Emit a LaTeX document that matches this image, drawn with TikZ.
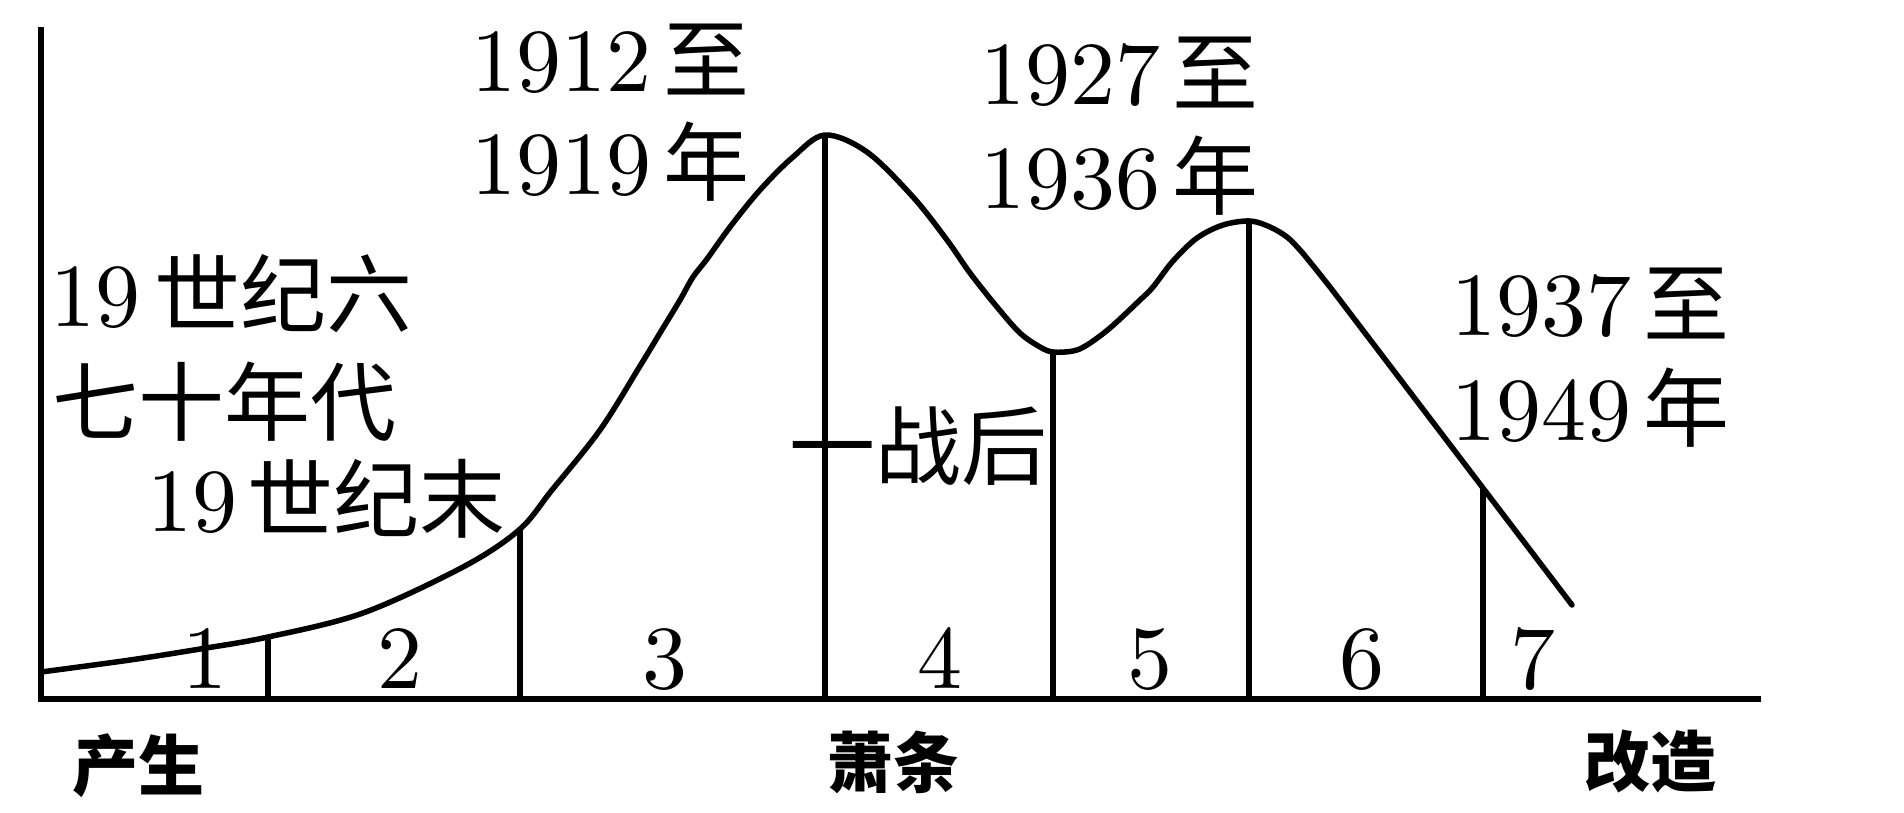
\documentclass[tikz,border=0pt]{standalone}
\usepackage{fontspec}
\setmainfont{lmroman10-regular}[Extension=.otf]
\newfontfamily\cjk{Noto Sans CJK SC}
\newcommand\zhtxt[1]{{\cjk\fontsize{86}{100}\selectfont #1}}
\begin{document}
\begin{tikzpicture}[x=1pt,y=-1pt,
  axisline/.style={line width=5.5pt},
  curveline/.style={line width=5.5pt, line cap=round, line join=round},
  divline/.style={line width=5.5pt},
  lbl/.style={inner sep=0pt, anchor=base west, font=\fontsize{90}{100}\selectfont},
  num/.style={inner sep=0pt, anchor=base, font=\fontsize{90}{100}\selectfont},
  stage/.style={inner sep=0pt, anchor=center, font=\cjk\bfseries\fontsize{66}{70}\selectfont},
]
\useasboundingbox (0,0) rectangle (1904,812);

% axes
\coordinate (origin) at (41,699);
\coordinate (ytop) at (41,27);
\coordinate (xend) at (1761,699);
\draw[axisline] (ytop) -- (origin) -- (xend);

% curve
\coordinate (cend) at (1572,605);
\draw[curveline] plot[smooth, tension=0.55] coordinates {
 (41,672) (130,660) (200,649) (268,637) (363,613) (463,567) (519,530)
 (552,490) (600,430) (640,366) (660,333) (680,300) (693,277) (707,259)
 (730,227) (760,190) (793,157) (825,135) (867,152) (913,197) (947,240)
 (970,273) (997,307) (1020,333) (1040,347) (1053,352) (1073,351)
 (1087,345) (1110,328) (1140,300) (1153,287) (1173,261) (1197,238)
 (1223,225) (1250,221) (1270,227) (1287,237) (1300,250) (1310,262)
 (1330,287)} -- (cend);

% dividers
\coordinate (b1) at (268,637);
\coordinate (b2) at (520,530);
\coordinate (b3) at (825,135);
\coordinate (b4) at (1053,352);
\coordinate (b5) at (1249,221);
\coordinate (b6) at (1483,488);
\foreach \b in {b1,b2,b3,b4,b5,b6}
  \draw[divline] (\b) -- (\b |- origin);

% stage numbers
\node[num] (n1) at (205,688) {1};
\node[num] (n2) at (400,688) {2};
\node[num] (n3) at (665,688) {3};
\node[num] (n4) at (940,688) {4};
\node[num] (n5) at (1150,688) {5};
\node[num] (n6) at (1362,688) {6};
\node[num] (n7) at (1533,688) {7};

% period labels
\node[lbl] (t1a) at (50,326) {19\hspace{14pt}\zhtxt{世纪六}};
\node[lbl] (t1b) at (52,434) {\zhtxt{七十年代}};
\node[lbl] (t2) at (147,531) {19\hspace{10pt}\zhtxt{世纪末}};
\node[lbl] (t3a) at (471,91) {1912\hspace{12pt}\zhtxt{至}};
\node[lbl] (t3b) at (471,194) {1919\hspace{12pt}\zhtxt{年}};
\node[lbl] (t4) at (789,478) {\zhtxt{一战后}};
\node[lbl] (t5a) at (980,104) {1927\hspace{12pt}\zhtxt{至}};
\node[lbl] (t5b) at (980,208) {1936\hspace{12pt}\zhtxt{年}};
\node[lbl] (t6a) at (1451,335) {1937\hspace{12pt}\zhtxt{至}};
\node[lbl] (t6b) at (1451,440) {1949\hspace{12pt}\zhtxt{年}};

% stage names
\node[stage] (s1) at (138,766) {产生};
\node[stage] (s2) at (893,762) {萧条};
\node[stage] (s3) at (1650,762) {改造};
\end{tikzpicture}
\end{document}
